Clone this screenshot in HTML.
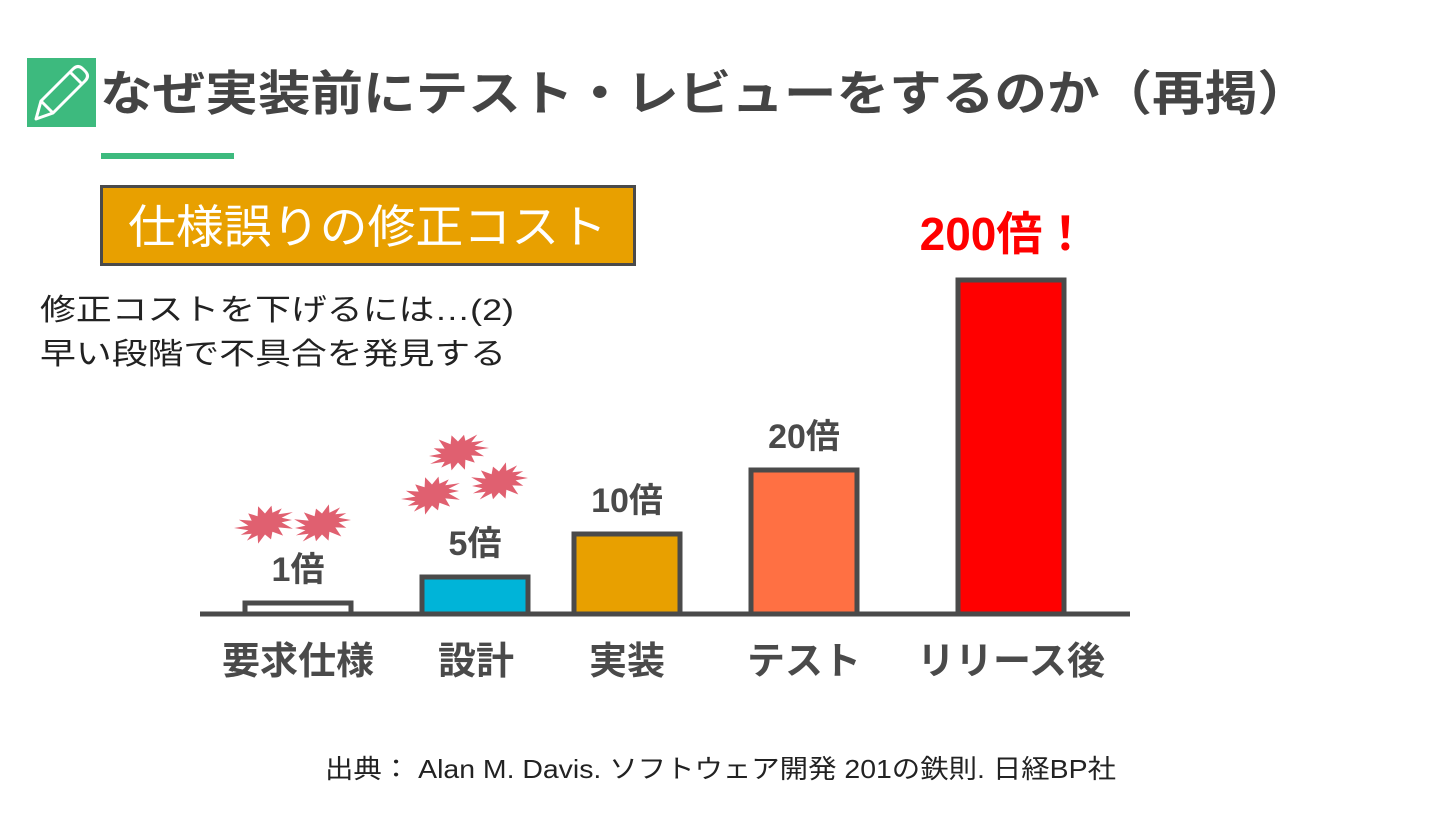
<!DOCTYPE html>
<html><head><meta charset="utf-8">
<style>
body{margin:0;width:1440px;height:810px;background:#fff;overflow:hidden;font-family:"Liberation Sans","Noto Sans CJK JP",sans-serif;}
</style></head>
<body>
<svg width="1440" height="810" viewBox="0 0 1440 810" xmlns="http://www.w3.org/2000/svg">
<g>
<rect x="27" y="58" width="69" height="69" fill="#3dba7e"/>
<path d="M36 119 L41 101 L73 69 Q78 64 83 69 L85 71 Q90 76 85 81 L53 113 Z M41 101 L53 113 M70 72 L82 84" fill="none" stroke="#fff" stroke-width="3" stroke-linejoin="round"/>
</g>
<text x="100" y="110" font-size="48" font-weight="bold" fill="#444" textLength="1210" lengthAdjust="spacingAndGlyphs">なぜ実装前にテスト・レビューをするのか（再掲）</text>
<rect x="101" y="153" width="133" height="6" fill="#3dba7e"/>
<g>
<rect x="101.5" y="186.5" width="533" height="78" fill="#e8a000" stroke="#4a4a4a" stroke-width="3"/>
<text x="128" y="243" font-size="46" fill="#fff" textLength="479" lengthAdjust="spacingAndGlyphs">仕様誤りの修正コスト</text>
</g>
<text x="40" y="320" font-size="30" fill="#222" textLength="474" lengthAdjust="spacingAndGlyphs">修正コストを下げるには…(2)</text>
<text x="40" y="364" font-size="30" fill="#222" textLength="466" lengthAdjust="spacingAndGlyphs">早い段階で不具合を発見する</text>
<g id="bursts"></g>
<g id="chart"></g>
<text x="325" y="778" font-size="26" fill="#222" textLength="791" lengthAdjust="spacingAndGlyphs">出典： Alan M. Davis. ソフトウェア開発 201の鉄則. 日経BP社</text>
</svg>
<script>
const categories = ["要求仕様","設計","実装","テスト","リリース後"];
const values = [1,5,10,20,200];
const valueLabels = ["1倍","5倍","10倍","20倍","200倍！"];
const colors = ["#ffffff","#00b4d8","#e8a000","#ff7043","#ff0000"];

const NS="http://www.w3.org/2000/svg";
const chart=document.getElementById('chart');
const baseY=614;
const knotsD=[0,1,5,10,20,200], knotsR=[0,11,37,80,144,334];
function yScale(v){
  for(let i=1;i<knotsD.length;i++){
    if(v<=knotsD[i]){const t=(v-knotsD[i-1])/(knotsD[i]-knotsD[i-1]);return baseY-(knotsR[i-1]+t*(knotsR[i]-knotsR[i-1]));}
  }
  const n=knotsD.length-1;return baseY-(knotsR[n]+(v-knotsD[n])*(knotsR[n]-knotsR[n-1])/(knotsD[n]-knotsD[n-1]));
}
const centers=[298,475,627,804,1011];
function xCenter(i){return centers[i];}
const labelCenters=[298,476,627,804,1011];
const bw=106;
function mk(tag,attrs){const e=document.createElementNS(NS,tag);for(const k in attrs)e.setAttribute(k,attrs[k]);return e;}
categories.forEach((c,i)=>{
  const top=yScale(values[i]);
  const r=mk('rect',{x:xCenter(i)-bw/2,y:top,width:bw,height:baseY-top,fill:colors[i],stroke:'#4a4a4a','stroke-width':5});
  
  
  chart.appendChild(r);
  const last=i===values.length-1;
  const t=mk('text',{x:xCenter(i)+(last?-7:0),y:top-(last?30:22),'font-size':last?46:34,'font-weight':'bold',fill:last?'#ff0000':'#4a4a4a','text-anchor':'middle'});
  t.textContent=valueLabels[i];
  
  
  chart.appendChild(t);
  const cl=mk('text',{x:labelCenters[i],y:674,'font-size':38,'font-weight':'bold',fill:'#4a4a4a','text-anchor':'middle'});
  cl.textContent=c;
  
  
  chart.appendChild(cl);
});
const ax=mk('line',{x1:200,y1:baseY,x2:1130,y2:baseY,stroke:'#4a4a4a','stroke-width':5});


chart.appendChild(ax);

const bursts=document.getElementById('bursts');
[[265,524],[322,524],[458,452],[432,495],[499,482]].forEach(([cx,cy],k)=>{
  let d='';const n=14;
  for(let j=0;j<n*2;j++){const a=j*Math.PI/n;const r=j%2?17:(27+((j*7+k)%3)*2);const ry=r*0.62;d+=(j?'L':'M')+(cx+r*Math.cos(a)).toFixed(1)+' '+(cy+ry*Math.sin(a)-Math.cos(a)*4).toFixed(1);}
  const p=mk('path',{d:d+'Z',fill:'#e06070'});
  
  
  bursts.appendChild(p);
});
</script>
</body></html>
